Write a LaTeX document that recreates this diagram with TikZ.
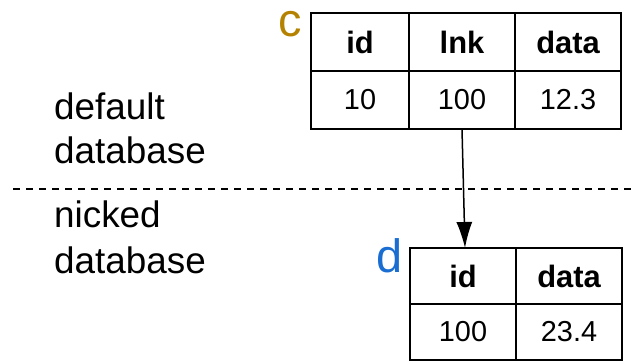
\documentclass[tikz,border=0pt]{standalone}
\usepackage{fontspec}
\setmainfont{Liberation Sans}
\usepackage{xcolor}
\usetikzlibrary{arrows.meta,positioning}
\definecolor{tabgold}{HTML}{B48200}
\definecolor{tabblue}{HTML}{1A6ED2}

\begin{document}
\begin{tikzpicture}[
  x=1bp, y=-1bp,
  cell/.style={draw, line width=2bp, inner sep=0pt, outer sep=0pt,
               minimum height=58bp, font=\fontsize{29}{35}\selectfont},
  head/.style={cell, font=\fontsize{31}{37}\selectfont\bfseries},
  side/.style={anchor=base west, inner sep=0pt, font=\fontsize{37}{44}\selectfont},
  tname/.style={anchor=base west, inner sep=0pt, font=\fontsize{47}{56}\selectfont},
  arr/.style={-{Latex[length=26bp,width=16bp]}, line width=1.5bp},
  sep/.style={line width=1.5bp, dash pattern=on 7bp off 6bp},
]
\useasboundingbox (0,0) rectangle (637,361);

% Side labels
\node[side] (def1) at (54,119) {default};
\node[side] (def2) at (54,163) {database};
\node[side] (nick1) at (54,227) {nicked};
\node[side] (nick2) at (54,273) {database};
\draw[sep] (13,189) -- (637,189);

% Table c
\node[tname, text=tabgold] (cname) at (278,36) {c};
\foreach \i/\x/\w/\hd/\val in {0/360/98/id/10, 1/462/106/lnk/100, 2/568/106/data/12.3} {
  \node[head, minimum width=\w bp] (c-h\i) at (\x,42) {\hd};
  \node[cell, minimum width=\w bp] (c-v\i) at (\x,100) {\val};
}

% Table d
\node[tname, text=tabblue] (dname) at (376,272) {d};
\foreach \i/\x/\hd/\val in {0/463/id/100, 1/569/data/23.4} {
  \node[head, minimum width=106bp, minimum height=56bp] (d-h\i) at (\x,276) {\hd};
  \node[cell, minimum width=106bp, minimum height=56bp] (d-v\i) at (\x,332) {\val};
}

% Link
\draw[arr] (c-v1.south) -- ([xshift=2bp]d-h0.north);
\end{tikzpicture}
\end{document}
